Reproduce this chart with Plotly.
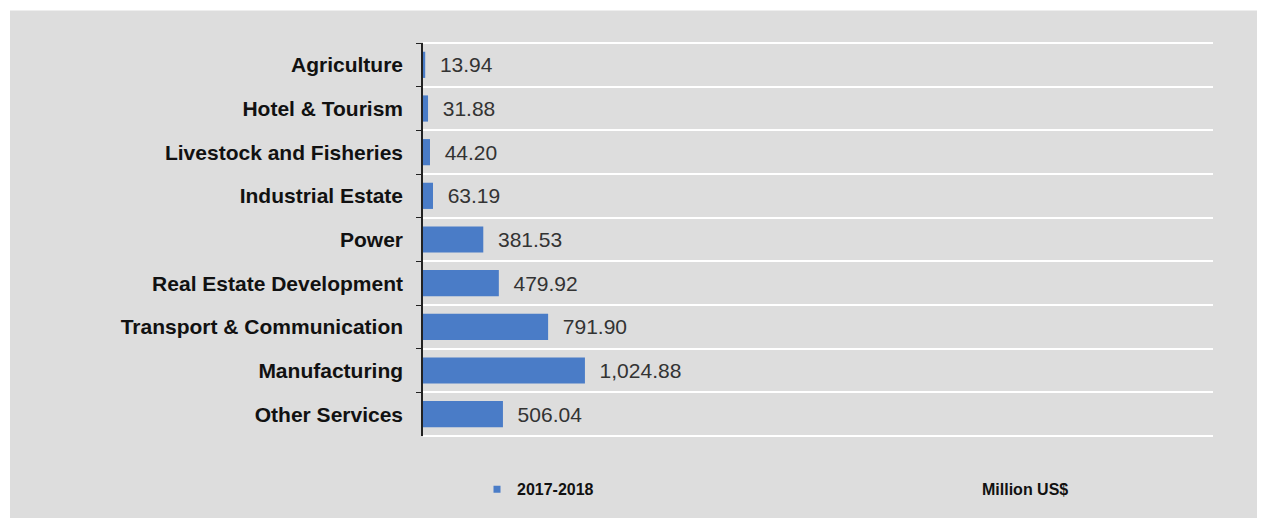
import plotly.graph_objects as go

# FDI by sector (top to bottom as in the source)
sectors = [
    "Agriculture", "Hotel & Tourism", "Livestock and Fisheries", "Industrial Estate",
    "Power", "Real Estate Development", "Transport & Communication",
    "Manufacturing", "Other Services",
]
values_2017_18 = [13.94, 31.88, 44.20, 63.19, 381.53, 479.92, 791.90, 1024.88, 506.04]
series_name = "2017-2018"
unit_label = "Million US$"

BLUE = "#4a7cc7"
PANEL = "#dddddd"
FONT = "Liberation Sans, Arial, sans-serif"

# figure sits inside the page body (8px margin), so work in figure pixels
W, H = 1249, 510
L, R, T, B = 415, 44, 35, 77
PW, PH = W - L - R, H - T - B


def px_x(x):
    return (x - L) / PW


def px_y(y):
    return (H - B - y) / PH


fig = go.Figure()
fig.add_trace(go.Bar(
    y=sectors, x=values_2017_18, orientation="h",
    marker=dict(color=BLUE, line=dict(width=0)),
    width=0.6,
    texttemplate="  %{x:,.2f}", textposition="outside",
    textfont=dict(family=FONT, size=21, color="#333333"),
    cliponaxis=False, showlegend=False,
))
# legend entry with a small square swatch
fig.add_trace(go.Scatter(
    x=[None], y=[None], mode="markers", name=series_name,
    marker=dict(symbol="square", size=7, color=BLUE),
))

# grey panel behind everything, white border round it
fig.add_shape(
    type="rect", xref="paper", yref="paper", layer="below",
    x0=px_x(2), x1=px_x(1260), y0=px_y(520), y1=px_y(2),
    fillcolor=PANEL, line=dict(width=0),
)
# white rules along the top and bottom of the plot area
for yy in (0, 1):
    fig.add_shape(
        type="line", xref="paper", yref="paper", layer="below",
        x0=0, x1=1, y0=yy, y1=yy, line=dict(color="white", width=2),
    )

fig.add_annotation(
    x=px_x(1017), y=px_y(487), xref="paper", yref="paper",
    text=unit_label, showarrow=False, xanchor="center", yanchor="middle",
    font=dict(family=FONT, size=16, color="#111111", weight="bold"),
)

fig.update_layout(
    width=W, height=H,
    margin=dict(l=L, r=R, t=T, b=B),
    paper_bgcolor="white", plot_bgcolor="rgba(0,0,0,0)",
    font=dict(family=FONT),
    legend=dict(
        orientation="h", x=px_x(469), y=px_y(487),
        xanchor="left", yanchor="middle", bgcolor="rgba(0,0,0,0)",
        font=dict(family=FONT, size=16, color="#111111", weight="bold"),
        itemwidth=30,
    ),
)
fig.update_xaxes(range=[0, 5000], showgrid=False, showticklabels=False,
                 zeroline=False, showline=False)
fig.update_yaxes(
    type="category", autorange="reversed", tickson="boundaries",
    showgrid=True, gridcolor="white", gridwidth=2,
    showline=True, linecolor="#222222", linewidth=1.5,
    ticks="outside", ticklen=5, tickcolor="#222222",
    ticklabelstandoff=14,
    tickfont=dict(family=FONT, size=21, color="#111111", weight="bold"),
)

fig.write_html("out.html")
